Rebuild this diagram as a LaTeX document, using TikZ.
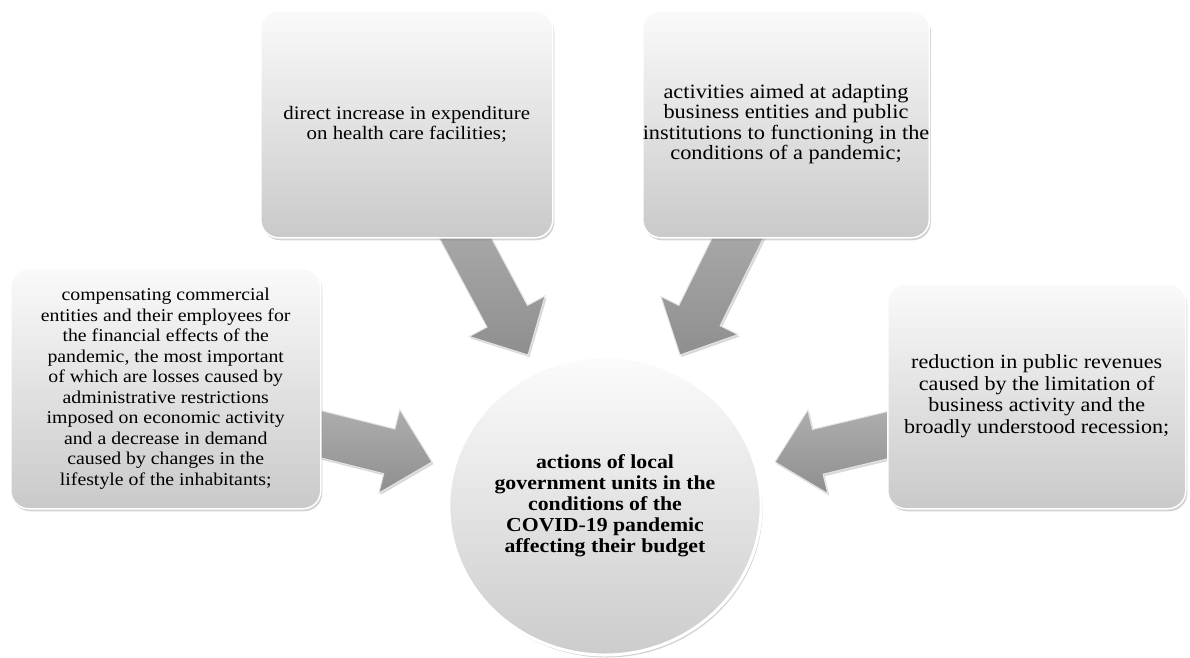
\documentclass[tikz,border=0pt]{standalone}
\usepackage{fontspec}
\setmainfont{Liberation Serif}[FakeStretch=1.1]
\usetikzlibrary{calc,shadows,shapes.geometric}
\pgfdeclarelayer{bottom}
\pgfdeclarelayer{background}
\pgfsetlayers{bottom,background,main}
\tikzset{
  box/.style={rounded corners=18pt, top color=gray!4, bottom color=gray!42,
    draw=white, line width=1.5pt,
    drop shadow={opacity=0.35, shadow xshift=1.5pt, shadow yshift=-2.5pt},
    align=center, text=black,
    inner sep=0pt, anchor=north west},
  hub/.style={ellipse, top color=gray!3, bottom color=gray!40,
    draw=white, line width=3pt,
    drop shadow={opacity=0.35, shadow xshift=1.5pt, shadow yshift=-2.5pt},
    align=center, font=\fontsize{19.8}{21}\selectfont\bfseries, text=black,
    inner sep=0pt, minimum width=310pt, minimum height=298pt},
  fatarrow/.style={top color=gray!62, bottom color=gray!88, draw=gray!20, line width=1pt,
    line join=miter,
    drop shadow={opacity=0.3, shadow xshift=1.5pt, shadow yshift=-2pt}}
}
\newcommand\fatarrow[3]{%
  \coordinate (#3h) at ($(#2)!44pt!(#1)$);
  \path[fatarrow] ($(#1)!23pt!90:(#2)$) -- ($(#3h)!23pt!90:(#2)$) -- ($(#3h)!43pt!90:(#2)$)
     -- (#2) -- ($(#3h)!43pt!-90:(#2)$) -- ($(#3h)!23pt!-90:(#2)$) -- ($(#1)!23pt!-90:(#2)$) -- cycle;}
\begin{document}
\begin{tikzpicture}[x=1pt, y=-1pt]
\begin{pgfonlayer}{bottom}
\fill[white] (0,0) rectangle (1190,657);
\end{pgfonlayer}
\useasboundingbox (0,0) rectangle (1190,657);

\node[box, minimum width=292pt, minimum height=227pt, font=\fontsize{19}{20}\selectfont] (health) at (260,10)
  {direct increase in expenditure\\on health care facilities;};
\node[box, minimum width=280pt, minimum height=227pt, font=\fontsize{20.3}{20.5}\selectfont] (adapt) at (642,10)
  {activities aimed at adapting\\business entities and public\\institutions to functioning in the\\conditions of a pandemic;};
\node[box, minimum width=310pt, minimum height=240pt, font=\fontsize{18}{20.5}\selectfont] (comp) at (10,268)
  {compensating commercial\\entities and their employees for\\the financial effects of the\\pandemic, the most important\\of which are losses caused by\\administrative restrictions\\imposed on economic activity\\and a decrease in demand\\caused by changes in the\\lifestyle of the inhabitants;};
\node[box, minimum width=298pt, minimum height=225pt, font=\fontsize{20.1}{21.7}\selectfont] (revenue) at (887,283)
  {reduction in public revenues\\caused by the limitation of\\business activity and the\\broadly understood recession;};
\node[hub] (center) at (605,506)
  {actions of local\\government units in the\\conditions of the\\COVID-19 pandemic\\affecting their budget};

\coordinate (s1) at (446,202); \coordinate (t1) at (528,355);
\coordinate (s2) at (756,201); \coordinate (t2) at (680,355);
\coordinate (s3) at (280,424); \coordinate (t3) at (432,462);
\coordinate (s4) at (926,426); \coordinate (t4) at (775,462);
\begin{pgfonlayer}{background}
\fatarrow{s1}{t1}{a1}
\fatarrow{s2}{t2}{a2}
\fatarrow{s3}{t3}{a3}
\fatarrow{s4}{t4}{a4}
\end{pgfonlayer}
\end{tikzpicture}
\end{document}
